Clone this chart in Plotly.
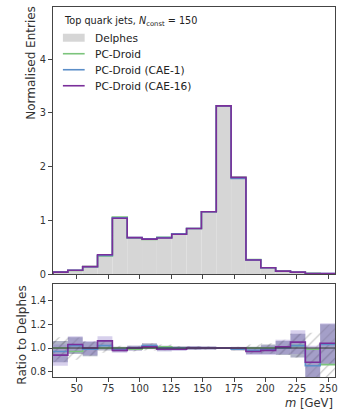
import plotly.graph_objects as go
from plotly.subplots import make_subplots

# ---- data ----
bin_edges = [31.1, 42.9, 54.7, 66.5, 78.3, 90.1, 101.9, 113.7, 125.5, 137.3,
             149.1, 160.9, 172.7, 184.5, 196.3, 208.1, 219.9, 231.7, 243.5, 255.3]
delphes = [0.04, 0.07, 0.14, 0.34, 1.06, 0.68, 0.645, 0.68, 0.75, 0.85,
           1.16, 3.13, 1.80, 0.27, 0.12, 0.055, 0.035, 0.015, 0.01]
ratio_pcdroid = [1.00, 0.97, 1.00, 1.00, 1.00, 0.99, 1.00, 1.01, 1.00, 1.00,
                 1.00, 1.00, 1.00, 1.00, 1.00, 1.01, 1.02, 0.99, 0.86]
ratio_cae1 = [0.97, 1.02, 0.99, 1.02, 0.99, 1.00, 1.02, 1.00, 1.00, 1.00,
              1.00, 1.00, 0.99, 0.98, 0.99, 1.00, 1.02, 0.85, 1.03]
ratio_cae16 = [0.94, 1.03, 1.00, 1.06, 0.98, 1.00, 1.01, 0.99, 0.99, 1.00,
               1.00, 1.00, 1.00, 0.97, 0.98, 1.01, 1.05, 0.88, 1.04]
unc = [0.09, 0.07, 0.06, 0.04, 0.02, 0.02, 0.02, 0.02, 0.015, 0.015,
       0.012, 0.008, 0.01, 0.03, 0.04, 0.06, 0.10, 0.14, 0.17]
x_ticks = [50, 75, 100, 125, 150, 175, 200, 225, 250]
legend_labels = ["Delphes", "PC-Droid", "PC-Droid (CAE-1)", "PC-Droid (CAE-16)"]

GREEN = "#7cc47c"
BLUE = "#5b8ec8"
PURPLE = "#7a2f9a"
FONT = "DejaVu Sans"

centers = [(a + b) / 2 for a, b in zip(bin_edges[:-1], bin_edges[1:])]
widths = [b - a for a, b in zip(bin_edges[:-1], bin_edges[1:])]

fig = make_subplots(rows=2, cols=1, shared_xaxes=False, vertical_spacing=0.0,
                    row_heights=[0.75, 0.25])

# main panel
fig.add_trace(go.Bar(x=centers, y=delphes, width=widths, name=legend_labels[0],
                     marker=dict(color="#d6d6d6", line=dict(width=0)),
                     showlegend=False), row=1, col=1)
series = [(legend_labels[1], ratio_pcdroid, GREEN),
          (legend_labels[2], ratio_cae1, BLUE),
          (legend_labels[3], ratio_cae16, PURPLE)]
for name, r, col in series:
    vals = [d * q for d, q in zip(delphes, r)]
    fig.add_trace(go.Scatter(x=[bin_edges[0]] + bin_edges + [bin_edges[-1]],
                             y=[0] + vals + [vals[-1], 0],
                             mode="lines", line=dict(color=col, width=1.6, shape="hv"),
                             name=name, showlegend=False), row=1, col=1)

# ratio panel bands
def band(r, fill, pattern):
    lo = [q - u for q, u in zip(r, unc)]
    hi = [q + u for q, u in zip(r, unc)]
    return go.Bar(x=centers, y=[h - l for h, l in zip(hi, lo)], base=lo, width=widths,
                  marker=dict(color=fill, line=dict(width=0), pattern=pattern),
                  showlegend=False, hoverinfo="skip")

hatch = dict(shape="/", fgcolor="rgba(110,110,110,0.9)", size=7, solidity=0.15,
             fillmode="overlay")
fig.add_trace(band(ratio_pcdroid, "rgba(255,255,255,0)", hatch), row=2, col=1)
fig.add_trace(band(ratio_cae1, "rgba(100,105,145,0.5)", hatch), row=2, col=1)
fig.add_trace(band(ratio_cae16, "rgba(140,120,200,0.35)", None), row=2, col=1)

for _, r, col in series:
    fig.add_trace(go.Scatter(x=bin_edges, y=r + [r[-1]], mode="lines",
                             line=dict(color=col, width=1.6, shape="hv"),
                             showlegend=False, hoverinfo="skip"), row=2, col=1)
fig.add_trace(go.Scatter(x=[bin_edges[0], bin_edges[-1]], y=[1, 1], mode="lines",
                         line=dict(color="#333333", width=1), showlegend=False),
              row=2, col=1)

axis_common = dict(showline=True, linecolor="#444444", linewidth=1, mirror=True,
                   ticks="outside", ticklen=4, tickcolor="#444444", showgrid=False,
                   zeroline=False, ticklabeloverflow="allow",
                   tickfont=dict(family=FONT, size=9.8, color="#333333"))
fig.update_xaxes(range=[bin_edges[0], bin_edges[-1]], tickvals=x_ticks, **axis_common)
fig.update_xaxes(showticklabels=False, row=1, col=1)
fig.update_xaxes(ticklabelstandoff=-2, row=2, col=1)
fig.update_yaxes(**axis_common)
fig.update_yaxes(range=[0, 4.97], tickvals=[0, 1, 2, 3, 4], row=1, col=1)
fig.update_yaxes(range=[0.755, 1.54], tickvals=[0.8, 1.0, 1.2, 1.4],
                 tickformat=".1f", row=2, col=1)

# manual legend (positions in pixel-derived domain fractions of the main axes)
PX_L, PX_W, PX_T, PX_H = 53, 285, 7.3, 267
def dx(px):
    return (px - PX_L) / PX_W
def dy(py):
    return (PX_T + PX_H - py) / PX_H

shapes = []
annotations = [dict(text="Top quark jets, <i>N</i><sub>const</sub> = 150",
                    x=dx(62), y=dy(21.5), xref="x domain", yref="y domain",
                    xanchor="left", yanchor="middle", showarrow=False,
                    font=dict(size=9.7, family=FONT, color="#222222"))]
rows_y = [38, 54, 70, 86]
shapes.append(dict(type="rect", xref="x domain", yref="y domain",
                   x0=dx(63), x1=dx(85), y0=dy(rows_y[0] - 4), y1=dy(rows_y[0] + 4),
                   fillcolor="#d6d6d6", line=dict(width=0)))
for (name, _, col), yy in zip(series, rows_y[1:]):
    shapes.append(dict(type="line", xref="x domain", yref="y domain",
                       x0=dx(63), x1=dx(85), y0=dy(yy), y1=dy(yy),
                       line=dict(color=col, width=1.6)))
for lab, yy in zip(legend_labels, rows_y):
    annotations.append(dict(text=lab, x=dx(93), y=dy(yy), xref="x domain",
                            yref="y domain", xanchor="left", yanchor="middle",
                            showarrow=False,
                            font=dict(size=10.6, family=FONT, color="#222222")))

annotations += [
    dict(text="Normalised Entries", x=(30 - 53) / 285, y=0.85, xref="paper", yref="paper",
         xanchor="center", yanchor="middle",
         textangle=-90, showarrow=False, font=dict(size=12, family=FONT)),
    dict(text="Ratio to Delphes", x=(21.5 - 53) / 285, y=0.114, xref="paper", yref="paper",
         xanchor="center", yanchor="middle",
         textangle=-90, showarrow=False, font=dict(size=12, family=FONT)),
    dict(text="<i>m</i> [GeV]", x=1.0, y=-0.07, xref="paper", yref="paper",
         xanchor="right", yanchor="middle", showarrow=False,
         font=dict(size=11.6, family=FONT)),
]

fig.update_layout(
    width=341, height=409, margin=dict(l=53, r=3, t=7, b=32),
    plot_bgcolor="white", paper_bgcolor="white", barmode="overlay",
    font=dict(family=FONT, size=10, color="#333333"),
    showlegend=False, shapes=shapes, annotations=annotations,
)
fig.update_layout(yaxis=dict(domain=[0.278, 1.0]), yaxis2=dict(domain=[0.0, 0.251]))

fig.write_html("out.html")
